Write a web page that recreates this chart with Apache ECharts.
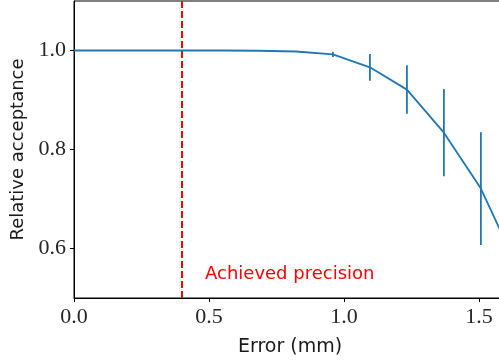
<!DOCTYPE html>
<html>
<head>
<meta charset="utf-8">
<script src="https://cdn.jsdelivr.net/npm/echarts@6/dist/echarts.min.js"></script>
<style>
  html, body { margin: 0; padding: 0; background: #fff; }
  #chart { width: 499px; height: 364px; }
</style>
</head>
<body>
<div id="chart"></div>
<script>
// Positional error (mm) at which acceptance was evaluated
const errorMm = [0.0, 0.137, 0.274, 0.411, 0.548, 0.685, 0.822, 0.959, 1.096, 1.233, 1.37, 1.507, 1.644];
// Acceptance relative to the perfectly aligned case
const acceptance = [1.0, 1.0, 1.0, 1.0, 1.0, 0.9995, 0.998, 0.992, 0.966, 0.921, 0.834, 0.721, 0.56];
// Half-width of the uncertainty on each point
const uncertainty = [0, 0, 0, 0, 0, 0.0005, 0.001, 0.005, 0.027, 0.049, 0.088, 0.114, 0.13];
// Precision reached in practice
const achievedPrecision = 0.4;
const xTicks = [0.0, 0.5, 1.0, 1.5];
const yTicks = [0.6, 0.8, 1.0];

const blue = '#1f77b4';
const textColor = '#1a1a1a';
const serif = '"Liberation Serif", serif';
const sans = '"DejaVu Sans", sans-serif';

const chart = echarts.init(document.getElementById('chart'), null, { renderer: 'canvas' });

chart.setOption({
  animation: false,
  grid: {
    left: 74, top: 1, width: 432, height: 297,
    containLabel: false, outerBoundsMode: 'none',
    show: true, borderColor: '#000', borderWidth: 1, backgroundColor: 'transparent'
  },
  xAxis: {
    type: 'value', min: 0, max: 1.6,
    name: 'Error (mm)', nameLocation: 'middle', nameGap: 40,
    nameTextStyle: { fontFamily: sans, fontSize: 19, color: textColor },
    axisLine: { show: true, onZero: false, lineStyle: { color: '#000', width: 1 } },
    axisTick: { show: true, inside: false, length: 4, customValues: xTicks, lineStyle: { color: '#000' } },
    axisLabel: {
      customValues: xTicks, margin: 8,
      fontFamily: serif, fontSize: 22, color: '#262626',
      formatter: v => v.toFixed(1)
    },
    splitLine: { show: false }
  },
  yAxis: {
    type: 'value', min: 0.5, max: 1.1,
    name: 'Relative acceptance', nameLocation: 'middle', nameGap: 45,
    nameTextStyle: { fontFamily: sans, fontSize: 18, color: textColor },
    axisLine: { show: true, onZero: false, lineStyle: { color: '#000', width: 1 } },
    axisTick: { show: true, inside: false, length: 4, customValues: yTicks, lineStyle: { color: '#000' } },
    axisLabel: {
      customValues: yTicks, margin: 8,
      fontFamily: serif, fontSize: 22, color: '#262626',
      formatter: v => v.toFixed(1)
    },
    splitLine: { show: false }
  },
  series: [
    {
      type: 'line',
      data: errorMm.map((x, i) => [x, acceptance[i]]),
      showSymbol: false,
      lineStyle: { color: blue, width: 1.8 },
      clip: true,
      z: 3,
      markLine: {
        silent: true,
        symbol: 'none',
        label: { show: false },
        lineStyle: { color: '#ff0000', type: [7, 3], width: 2 },
        data: [{ xAxis: achievedPrecision }]
      }
    },
    {
      type: 'custom',
      clip: true,
      z: 3,
      data: errorMm.map((x, i) => [x, acceptance[i], uncertainty[i]]),
      renderItem: (params, api) => {
        const x = api.value(0), y = api.value(1), e = api.value(2);
        if (e <= 0) return null;
        const top = api.coord([x, y + e]);
        const bottom = api.coord([x, y - e]);
        return {
          type: 'line',
          shape: { x1: top[0], y1: top[1], x2: bottom[0], y2: bottom[1] },
          style: { stroke: blue, lineWidth: 1.8 }
        };
      }
    }
  ],
  graphic: [
    {
      type: 'text', left: 205, top: 265,
      style: { text: 'Achieved precision', fill: '#ff0000', font: '18px ' + sans }
    }
  ]
});
</script>
</body>
</html>
